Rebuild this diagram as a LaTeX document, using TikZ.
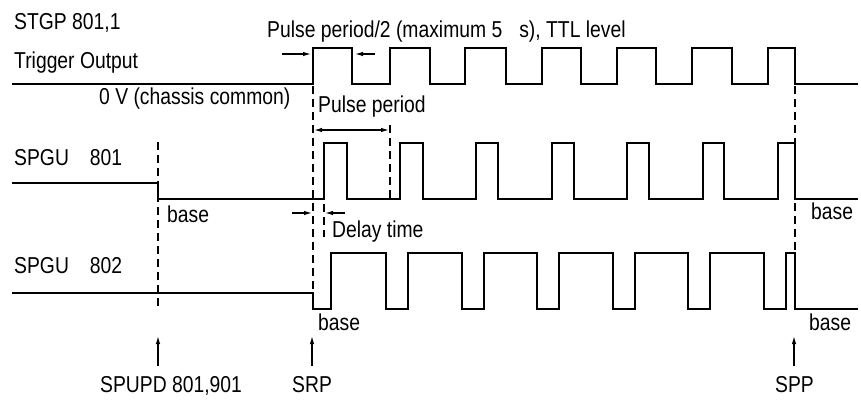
\documentclass[tikz,border=0pt]{standalone}
\usepackage{fontspec}
\setmainfont[FakeStretch=0.84]{Liberation Sans}
\usetikzlibrary{arrows.meta}
\begin{document}
\begin{tikzpicture}[x=1pt,y=-1pt,
  sig/.style={line width=2.1pt,line join=miter},
  guide/.style={line width=1.2pt,dash pattern=on 8pt off 5pt},
  dim/.style={line width=1.2pt,-{Latex[length=8pt,width=4.5pt]}},
  dimboth/.style={line width=1.2pt,{Latex[length=8pt,width=4.5pt]}-{Latex[length=8pt,width=4.5pt]}},
  lbl/.style={inner sep=0pt,anchor=base west,font=\fontsize{23}{26}\selectfont}]
\useasboundingbox (0,0) rectangle (861,399);

% Trigger output signal
\draw[sig] (12,84) -- (313,84) -- (313,48) -- (352,48) -- (352,84)
  -- (390,84) -- (390,48) -- (430,48) -- (430,84)
  -- (465,84) -- (465,48) -- (506,48) -- (506,84)
  -- (542,84) -- (542,48) -- (581,48) -- (581,84)
  -- (617,84) -- (617,48) -- (656,48) -- (656,84)
  -- (692,84) -- (692,48) -- (732,48) -- (732,84)
  -- (768,84) -- (768,48) -- (795,48) -- (795,84) -- (858,84);

% SPGU 801 signal
\draw[sig] (12,183) -- (158,183) -- (158,199) -- (324,199) -- (324,143) -- (347,143) -- (347,199)
  -- (400,199) -- (400,143) -- (423,143) -- (423,199)
  -- (476,199) -- (476,143) -- (498,143) -- (498,199)
  -- (552,199) -- (552,143) -- (574,143) -- (574,199)
  -- (627,199) -- (627,143) -- (649,143) -- (649,199)
  -- (703,199) -- (703,143) -- (724,143) -- (724,199)
  -- (778,199) -- (778,143) -- (795,143) -- (795,199) -- (858,199);

% SPGU 802 signal
\draw[sig] (12,293) -- (313,293) -- (313,309) -- (331,309) -- (331,253) -- (386,253) -- (386,309)
  -- (408,309) -- (408,253) -- (462,253) -- (462,309)
  -- (484,309) -- (484,253) -- (537,253) -- (537,309)
  -- (559,309) -- (559,253) -- (613,253) -- (613,309)
  -- (635,309) -- (635,253) -- (688,253) -- (688,309)
  -- (710,309) -- (710,253) -- (764,253) -- (764,309)
  -- (786,309) -- (786,253) -- (795,253) -- (795,309) -- (858,309);

% dashed guides
\coordinate (g1t) at (158,142); \coordinate (g1b) at (158,310);
\coordinate (g2t) at (313,86);  \coordinate (g2b) at (313,309);
\coordinate (g3t) at (390,125); \coordinate (g3b) at (390,199);
\coordinate (g4t) at (324,204); \coordinate (g4b) at (324,237);
\coordinate (g5t) at (795,86);  \coordinate (g5b) at (795,252);
\draw[guide] (g1t) -- (g1b);
\draw[guide] (g2t) -- (g2b);
\draw[guide] (g3t) -- (g3b);
\draw[guide] (g4t) -- (g4b);
\draw[guide] (g5t) -- (g5b);

% dimension arrows
\coordinate (a1s) at (282,54); \coordinate (a1e) at (311,54);
\coordinate (a2s) at (375,54); \coordinate (a2e) at (355,54);
\draw[dim] (a1s) -- (a1e);
\draw[dim] (a2s) -- (a2e);
\coordinate (pp1) at (314,130); \coordinate (pp2) at (389,130);
\draw[dimboth] (pp1) -- (pp2);
\coordinate (d1s) at (292,213); \coordinate (d1e) at (312,213);
\coordinate (d2s) at (345,213); \coordinate (d2e) at (325,213);
\draw[dim] (d1s) -- (d1e);
\draw[dim] (d2s) -- (d2e);

% event arrows
\coordinate (e1s) at (158,366); \coordinate (e1e) at (158,336);
\coordinate (e2s) at (312,366); \coordinate (e2e) at (312,336);
\coordinate (e3s) at (794,366); \coordinate (e3e) at (794,336);
\draw[dim] (e1s) -- (e1e);
\draw[dim] (e2s) -- (e2e);
\draw[dim] (e3s) -- (e3e);

% labels
\node[lbl] (t1) at (14,29) {STGP 801,1};
\node[lbl] (t2) at (14,68) {Trigger Output};
\node[lbl] (t3) at (99,104) {0 V (chassis common)};
\node[lbl] (t4) at (267,37) {Pulse period/2 (maximum 5\hspace{17pt}s), TTL level};
\node[lbl] (t5) at (318,112) {Pulse period};
\node[lbl] (t6) at (14,165) {SPGU\hspace{21pt}801};
\node[lbl] (t7) at (167,222) {base};
\node[lbl] (t8) at (332,237) {Delay time};
\node[lbl] (t9) at (811,219) {base};
\node[lbl] (t10) at (14,273) {SPGU\hspace{21pt}802};
\node[lbl] (t11) at (318,330) {base};
\node[lbl] (t12) at (809,330) {base};
\node[lbl] (t13) at (100,392) {SPUPD 801,901};
\node[lbl] (t14) at (292,392) {SRP};
\node[lbl] (t15) at (775,392) {SPP};
\end{tikzpicture}
\end{document}
